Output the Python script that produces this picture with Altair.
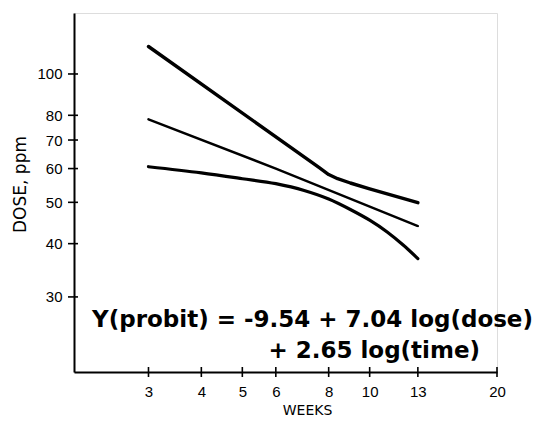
import altair as alt
import pandas as pd

# ---- data ----
top_weeks = [3, 7.6, 8.0, 8.4, 9, 10, 13]
top_dose = [116, 60.3, 58.1, 56.8, 55.5, 53.8, 49.9]

mid_weeks = [3, 6, 13]
mid_dose = [78.3, 60.0, 44.0]

bot_weeks = [3, 4, 5, 6, 7, 8, 9, 10, 11, 12, 13]
bot_dose = [60.6, 58.6, 56.8, 55.3, 53.3, 50.9, 48.1, 45.4, 42.6, 39.7, 36.9]

x_ticks = [3, 4, 5, 6, 8, 10, 13, 20]
y_ticks = [30, 40, 50, 60, 70, 80, 100]

eq_line1 = "Y(probit) = -9.54 + 7.04 log(dose)"
eq_line2 = "+ 2.65 log(time)"

W, H = 423, 359
X_DOM = [2, 20]
Y_DOM = [20, 139]

xs = alt.Scale(type="log", domain=X_DOM, nice=False, zero=False)
ys = alt.Scale(type="log", domain=Y_DOM, nice=False, zero=False)

x_axis = alt.Axis(values=x_ticks, title="WEEKS", grid=False, ticks=False, tickSize=0,
                  labelFont="Liberation Sans", labelFontSize=15, labelColor="black",
                  labelPadding=12, domainColor="black", domainWidth=2,
                  titleFont="DejaVu Sans", titleFontSize=14, titleFontWeight="normal",
                  titleColor="black", titleX=233, titleY=45, titleAlign="center",
                  titleBaseline="bottom", labelFlush=False)
y_axis = alt.Axis(values=y_ticks, title="DOSE, ppm", grid=False, ticks=False, tickSize=0,
                  labelFont="Liberation Sans", labelFontSize=15, labelColor="black",
                  labelPadding=12, domainColor="black", domainWidth=2,
                  titleFont="DejaVu Sans", titleFontSize=17, titleFontWeight="normal",
                  titleColor="black", titleAngle=270, titleX=-54, titleY=171,
                  titleAlign="center", titleBaseline="middle")

def line(weeks, dose, width, interp):
    df = pd.DataFrame({"week": weeks, "dose": dose})
    return alt.Chart(df).mark_line(color="black", strokeWidth=width,
                                   interpolate=interp, strokeCap="round",
                                   strokeJoin="round").encode(
        x=alt.X("week:Q", scale=xs, axis=x_axis),
        y=alt.Y("dose:Q", scale=ys, axis=y_axis),
    )

top = line(top_weeks, top_dose, 3.4, "linear")
mid = line(mid_weeks, mid_dose, 2.4, "monotone")
bot = line(bot_weeks, bot_dose, 3.2, "monotone")

xt = alt.Chart(pd.DataFrame({"week": x_ticks})).mark_rule(color="black", strokeWidth=1.6).encode(
    x=alt.X("week:Q", scale=xs), y=alt.value(H - 5), y2=alt.value(H + 5))
yt = alt.Chart(pd.DataFrame({"dose": y_ticks})).mark_rule(color="black", strokeWidth=1.6).encode(
    y=alt.Y("dose:Q", scale=ys), x=alt.value(-6), x2=alt.value(4))

t1 = alt.Chart(pd.DataFrame({"week": [2.206], "dose": [25.5], "t": [eq_line1]})).mark_text(
    font="DejaVu Sans", fontWeight="bold", fontSize=23, align="left", baseline="alphabetic",
    color="black").encode(x=alt.X("week:Q", scale=xs), y=alt.Y("dose:Q", scale=ys), text="t:N")
t2 = alt.Chart(pd.DataFrame({"week": [18.24], "dose": [21.6], "t": [eq_line2]})).mark_text(
    font="DejaVu Sans", fontWeight="bold", fontSize=23, align="right", baseline="alphabetic",
    color="black").encode(x=alt.X("week:Q", scale=xs), y=alt.Y("dose:Q", scale=ys), text="t:N")

chart = alt.layer(top, mid, bot, xt, yt, t1, t2).properties(
    width=W, height=H,
    autosize=alt.AutoSizeParams(type="none"),
    padding={"left": 66, "top": 5, "right": 40, "bottom": 45},
).configure_view(stroke=None).configure(background="white")

chart.save("out.html", embed_options={"renderer": "svg", "actions": False})
